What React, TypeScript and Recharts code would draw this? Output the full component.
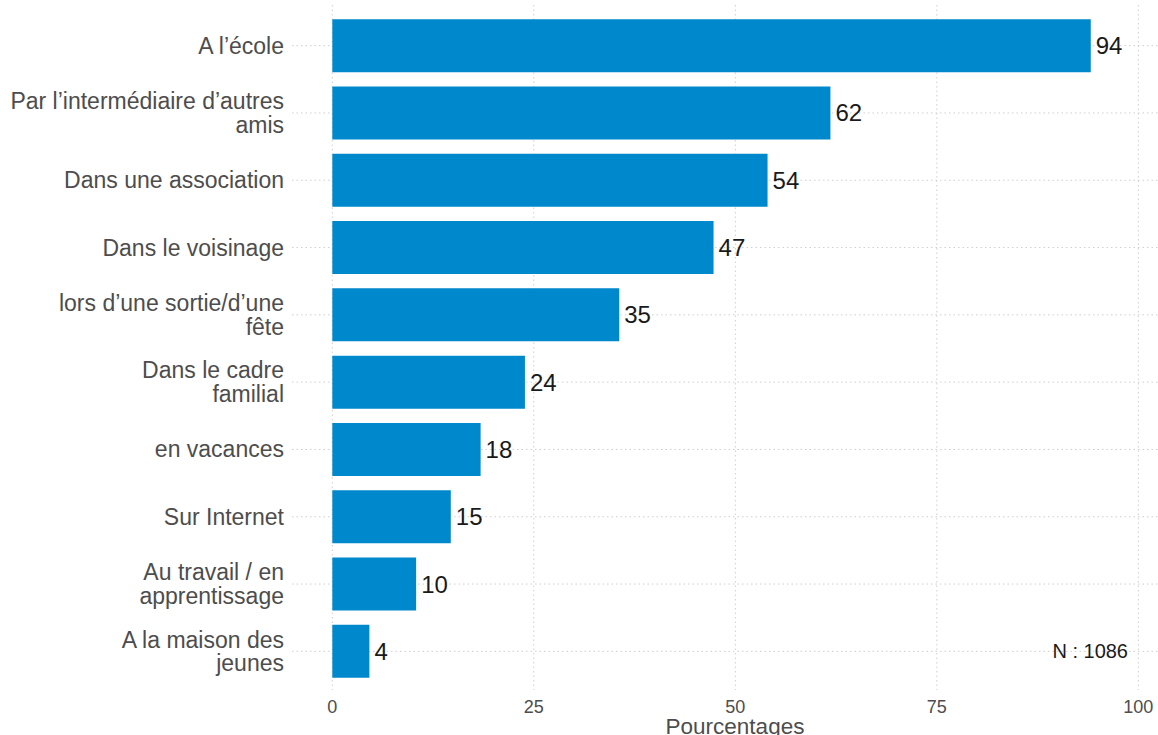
import { BarChart, Bar, XAxis, YAxis, CartesianGrid, LabelList, ReferenceLine } from 'recharts'

const categories = [
  'A l’école',
  'Par l’intermédiaire d’autres\namis',
  'Dans une association',
  'Dans le voisinage',
  'lors d’une sortie/d’une\nfête',
  'Dans le cadre\nfamilial',
  'en vacances',
  'Sur Internet',
  'Au travail / en\napprentissage',
  'A la maison des\njeunes',
]
const percentages = [94.1, 61.8, 54.0, 47.3, 35.6, 23.9, 18.4, 14.7, 10.4, 4.6]
const valueLabels = ['94', '62', '54', '47', '35', '24', '18', '15', '10', '4']
const xTicks = [0, 25, 50, 75, 100]
const sampleNote = 'N : 1086'

const data = categories.map((name, i) => ({ name, value: percentages[i], label: valueLabels[i] }))

const FONT = '"Liberation Sans", Arial, Helvetica, sans-serif'

function CategoryTick(props: any) {
  const { x, y, payload } = props
  const lines = String(payload.value).split('\n')
  const lh = 23.5
  return (
    <text x={x} y={y} textAnchor="end" fill="#4d4d4d" fontSize={23} fontFamily={FONT}>
      {lines.map((l, i) => (
        <tspan key={i} x={x} y={y + (i - (lines.length - 1) / 2) * lh} dominantBaseline="central">
          {l}
        </tspan>
      ))}
    </text>
  )
}

export default function App() {
  return (
    <div style={{ position: 'absolute', left: 0, top: 0, width: 1158, height: 735, background: '#fff' }}>
      <BarChart
        width={1158}
        height={735}
        data={data}
        layout="vertical"
        margin={{ top: 5, right: 0, left: 0, bottom: 0 }}
        barCategoryGap="10.6%"
      >
        <CartesianGrid stroke="#cfcfcf" strokeDasharray="1.5 3" syncWithTicks />
        <XAxis
          type="number"
          domain={[-5, 102.44]}
          ticks={xTicks}
          allowDataOverflow
          height={45}
          axisLine={false}
          tickLine={false}
          tickSize={0}
          tickMargin={10}
          tick={{ fill: '#4d4d4d', fontSize: 18, fontFamily: FONT }}
          label={{
            value: 'Pourcentages',
            position: 'insideBottom',
            offset: 1,
            dx: 10,
            fill: '#4d4d4d',
            fontSize: 22.5,
            fontFamily: FONT,
          }}
        />
        <YAxis
          type="category"
          dataKey="name"
          width={292}
          axisLine={false}
          tickLine={false}
          tickSize={0}
          tickMargin={8}
          padding={{ top: 7, bottom: 5 }}
          interval={0}
          tick={<CategoryTick />}
        />
        <Bar dataKey="value" fill="#0088cc" isAnimationActive={false}>
          <LabelList dataKey="label" position="right" offset={5} fill="#1a1a1a" fontSize={24} fontFamily={FONT} />
        </Bar>
        <ReferenceLine
          y={categories[categories.length - 1]}
          stroke="none"
          label={{ value: sampleNote, position: 'insideRight', offset: 30, fill: '#1a1a1a', fontSize: 20, fontFamily: FONT }}
        />
      </BarChart>
    </div>
  )
}
